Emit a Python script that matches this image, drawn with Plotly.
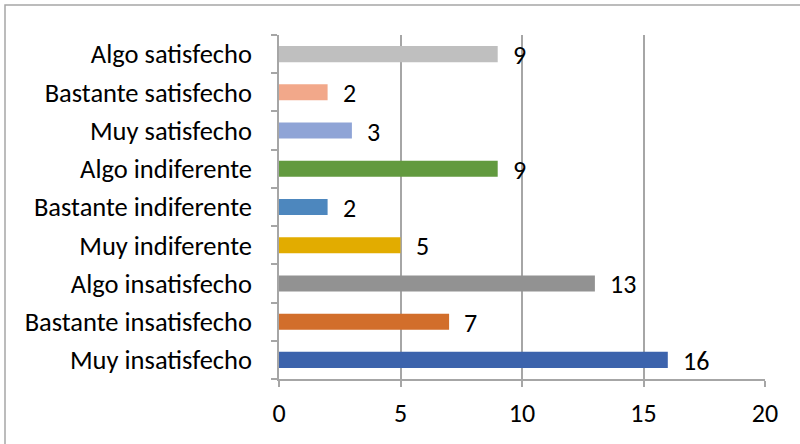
import plotly.graph_objects as go

# Survey response counts, bottom to top
categories = [
    "Muy insatisfecho",
    "Bastante insatisfecho",
    "Algo insatisfecho",
    "Muy indiferente",
    "Bastante indiferente",
    "Algo indiferente",
    "Muy satisfecho",
    "Bastante satisfecho",
    "Algo satisfecho",
]
counts = [16, 7, 13, 5, 2, 9, 3, 2, 9]
bar_colors = [
    "#3C63AC", "#D26E2B", "#929292", "#E2AC00", "#4D87BE",
    "#629A3F", "#8FA4D6", "#F2A88A", "#BFBFBF",
]
x_ticks = [0, 5, 10, 15, 20]

FONT = "Carlito, Lato"
W, H = 800, 444
ML, MR, MT, MB = 279, 35, 35, 65
pw, ph = W - ML - MR, H - MT - MB

fig = go.Figure(
    go.Bar(
        x=counts,
        y=categories,
        orientation="h",
        marker=dict(color=bar_colors, line=dict(width=0)),
        width=0.42,
        hoverinfo="x+y",
    )
)

# Value labels just beyond each bar end
for cat, val in zip(categories, counts):
    fig.add_annotation(
        x=val, y=cat, text=str(val), showarrow=False,
        xanchor="left", yanchor="middle", xshift=13, yshift=-1,
        font=dict(family=FONT, size=26, color="#000000"),
    )

# Outer chart frame
fig.add_shape(
    type="rect", xref="paper", yref="paper",
    x0=(5 - ML) / pw, x1=(W + 20 - ML) / pw,
    y0=-(H + 20 - (H - MB)) / ph, y1=1 + (MT - 5) / ph,
    line=dict(color="#a6a6a6", width=1.5), layer="below",
)

fig.update_layout(
    width=W, height=H,
    margin=dict(l=ML, r=MR, t=MT, b=MB),
    paper_bgcolor="white", plot_bgcolor="white",
    showlegend=False,
    font=dict(family=FONT, size=26, color="#000000"),
    xaxis=dict(
        range=[0, 20], tickvals=x_ticks, ticktext=[str(v) for v in x_ticks],
        showgrid=True, gridcolor="#a6a6a6", gridwidth=1.5,
        zeroline=False, showline=True, linecolor="#a6a6a6", linewidth=1.5,
        ticks="outside", ticklen=6, tickcolor="#a6a6a6", tickwidth=1.5,
        ticklabelstandoff=4,
        tickfont=dict(family=FONT, size=26, color="#000000"),
        fixedrange=True,
    ),
    yaxis=dict(
        type="category", categoryorder="array", categoryarray=categories,
        range=[-0.5, len(categories) - 0.5],
        showgrid=False, zeroline=False,
        showline=True, linecolor="#a6a6a6", linewidth=1.5,
        ticks="outside", tickson="boundaries", ticklen=6,
        tickcolor="#a6a6a6", tickwidth=1.5,
        ticklabelstandoff=20,
        tickfont=dict(family=FONT, size=26.5, color="#000000"),
        fixedrange=True,
    ),
)

fig.write_html("out.html")
